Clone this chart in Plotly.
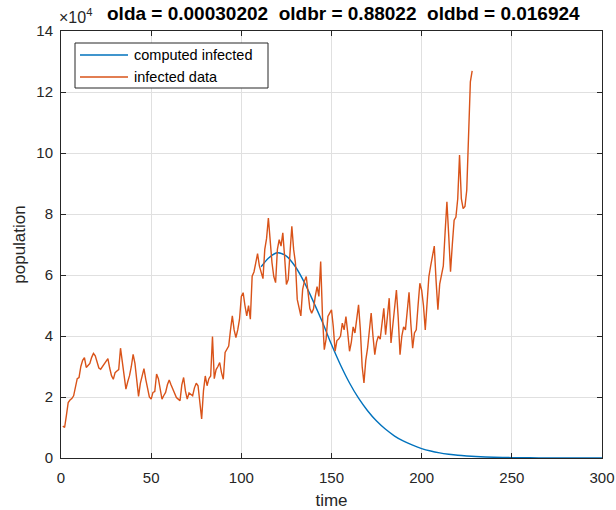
import plotly.graph_objects as go

# Observed infected counts (units of 1e4), one value per day starting at day 1
infected_data = [
    1.05, 1.00, 1.40, 1.82, 1.90, 1.95, 2.04, 2.30, 2.60, 2.64,
    3.00, 3.20, 3.29, 2.97, 3.05, 3.10, 3.30, 3.43, 3.35, 3.10,
    2.95, 2.91, 3.00, 3.10, 3.20, 3.26, 2.95, 2.70, 2.58, 2.80,
    2.85, 2.90, 3.60, 3.10, 2.60, 2.26, 2.50, 2.70, 3.00, 3.40,
    3.10, 2.60, 2.02, 2.45, 2.70, 2.93, 2.58, 2.30, 2.00, 1.93,
    2.15, 2.18, 2.75, 2.60, 2.20, 1.93, 2.05, 2.15, 2.40, 2.56,
    2.40, 2.26, 2.10, 1.98, 1.93, 1.88, 2.40, 2.64, 2.20, 1.93,
    2.13, 2.08, 2.04, 2.30, 2.45, 2.37, 1.80, 1.28, 2.20, 2.69,
    2.37, 2.60, 2.69, 3.98, 2.60, 2.90, 3.00, 3.13, 2.80, 2.58,
    3.46, 3.55, 3.67, 4.20, 4.66, 4.20, 3.95, 4.20, 4.55, 5.30,
    5.42, 5.00, 4.66, 5.00, 4.55, 5.96, 6.10, 6.40, 6.70, 6.30,
    6.10, 5.88, 6.84, 7.20, 7.87, 7.00, 6.40, 5.95, 5.75, 6.84,
    7.16, 6.95, 7.38, 6.60, 5.69, 5.85, 6.90, 7.60, 6.84, 6.40,
    5.20, 4.90, 4.66, 5.53, 5.80, 5.95, 5.42, 4.90, 4.75, 4.88,
    5.30, 5.62, 5.30, 6.44, 4.66, 3.55, 3.90, 4.64, 4.75, 4.86,
    4.30, 3.50, 3.85, 3.90, 4.00, 4.42, 4.20, 4.64, 4.10, 3.50,
    3.80, 4.30, 4.10, 4.60, 5.02, 4.20, 3.00, 2.46, 3.20, 3.60,
    4.20, 4.75, 4.00, 3.39, 3.80, 4.00, 3.90, 4.50, 4.91, 4.04,
    4.60, 5.24, 3.77, 4.30, 4.90, 5.51, 4.60, 3.39, 4.00, 4.30,
    4.20, 4.90, 5.43, 4.40, 3.60, 4.10, 4.20, 5.00, 5.73, 5.50,
    5.00, 4.20, 5.10, 5.95, 6.30, 6.60, 6.95, 5.80, 4.86, 5.70,
    6.00, 6.30, 7.40, 8.40, 7.30, 6.11, 7.00, 7.80, 7.90, 8.50,
    9.93, 8.50, 8.18, 8.25, 8.78, 10.85, 12.33, 12.69,
]
data_days = list(range(1, len(infected_data) + 1))

# Model output (units of 1e4)
model_days = [111, 115, 120, 125, 130, 135, 140, 145, 150, 155,
              160, 165, 170, 175, 180, 185, 190, 195, 200, 205,
              210, 215, 220, 225, 230, 240, 250, 260, 270, 280,
              290, 300]
computed_infected = [6.27, 6.55, 6.73, 6.62, 6.27, 5.75, 5.12, 4.45, 3.72, 3.05,
                     2.46, 1.96, 1.55, 1.21, 0.94, 0.72, 0.55, 0.42, 0.31, 0.23,
                     0.17, 0.125, 0.09, 0.066, 0.048, 0.025, 0.013, 0.007, 0.0035, 0.0018,
                     0.0009, 0.0005]

x_ticks = [0, 50, 100, 150, 200, 250, 300]
y_ticks = [0, 2, 4, 6, 8, 10, 12, 14]

legend_labels = ["computed infected", "infected data"]
colors = ["#0072BD", "#D95319"]

FONT = "Liberation Sans, Arial, Helvetica, sans-serif"
INK = "#262626"
GRID = "#e0e0e0"

# Plot area in pixels (used to place the legend box and header texts)
W, H = 616, 510
L, R, T, B = 61, 14, 31, 52
PW, PH = W - L - R, H - T - B


def px(x):
    return (x - L) / PW


def py(y):
    return (H - B - y) / PH


fig = go.Figure()
fig.add_trace(go.Scatter(
    x=model_days, y=computed_infected, mode="lines",
    name=legend_labels[0],
    line=dict(color=colors[0], width=1.4, shape="spline", smoothing=0.8),
))
fig.add_trace(go.Scatter(
    x=data_days, y=infected_data, mode="lines",
    name=legend_labels[1],
    line=dict(color=colors[1], width=1.4),
))

axis_common = dict(
    showline=True, linecolor=INK, linewidth=1, mirror="ticks",
    ticks="inside", ticklen=5, tickcolor=INK, tickwidth=1,
    showgrid=True, gridcolor=GRID, gridwidth=1,
    zeroline=False, automargin=False,
    tickfont=dict(family=FONT, size=15, color=INK),
)

# Boxed legend in the upper-left corner of the axes
shapes = [dict(
    type="rect", xref="paper", yref="paper", layer="above",
    x0=px(75), x1=px(268), y0=py(88), y1=py(43),
    line=dict(color=INK, width=1), fillcolor="white",
)]
annotations = []
for i, (label, color) in enumerate(zip(legend_labels, colors)):
    ypix = 55 + 22 * i
    shapes.append(dict(
        type="line", xref="paper", yref="paper", layer="above",
        x0=px(80), x1=px(128), y0=py(ypix), y1=py(ypix),
        line=dict(color=color, width=1.4),
    ))
    annotations.append(dict(
        text=label, xref="paper", yref="paper",
        x=px(132), y=py(ypix), xanchor="left", yanchor="middle",
        showarrow=False, font=dict(family=FONT, size=14.5, color="#000000"),
    ))

annotations += [
    dict(
        text="<b>olda = 0.00030202 \u00a0oldbr = 0.88022 \u00a0oldbd = 0.016924</b>",
        xref="paper", yref="paper", x=px(343), y=py(14),
        xanchor="center", yanchor="middle", showarrow=False,
        font=dict(family=FONT, size=19, color="#000000"),
    ),
    dict(
        text="\u00d710<sup>4</sup>",
        xref="paper", yref="paper", x=px(57), y=py(16),
        xanchor="left", yanchor="middle", showarrow=False,
        font=dict(family=FONT, size=16, color=INK),
    ),
]

fig.update_layout(
    width=W, height=H,
    margin=dict(l=L, r=R, t=T, b=B),
    paper_bgcolor="white", plot_bgcolor="white",
    showlegend=False,
    xaxis=dict(
        range=[0, 300], tickvals=x_ticks, ticklabelstandoff=6,
        title=dict(text="time", font=dict(family=FONT, size=17, color=INK), standoff=9),
        **axis_common,
    ),
    yaxis=dict(
        range=[0, 14], tickvals=y_ticks, ticklabelstandoff=4,
        title=dict(text="population", font=dict(family=FONT, size=17, color=INK), standoff=6),
        **axis_common,
    ),
    shapes=shapes,
    annotations=annotations,
)

fig.write_html("out.html")
